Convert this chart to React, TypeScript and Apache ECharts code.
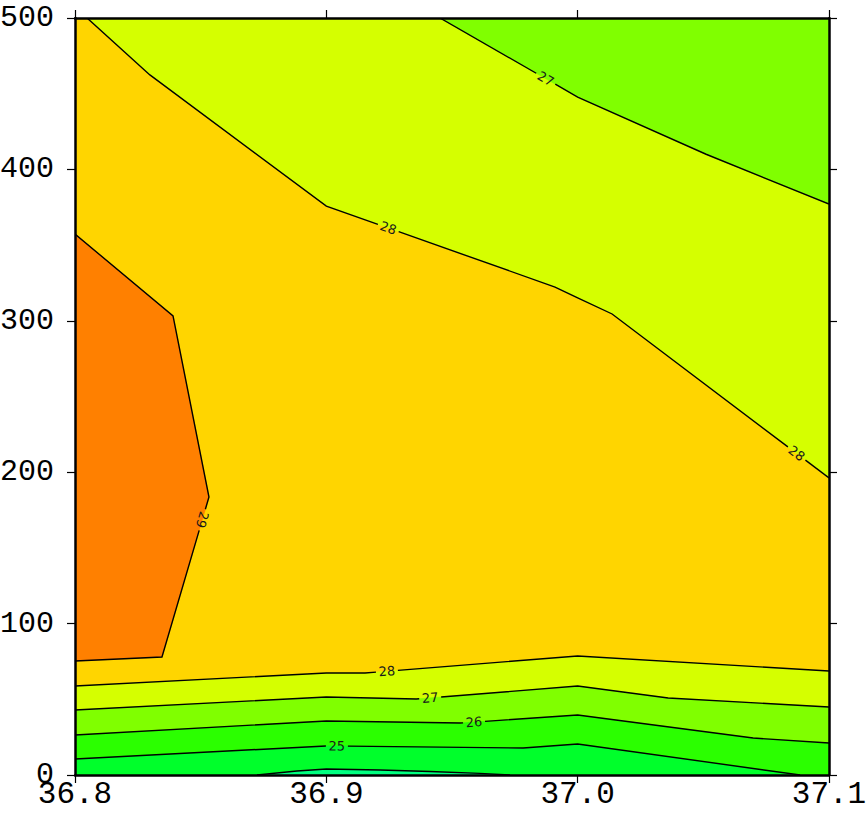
import React, { useEffect, useRef } from "react";
import * as echarts from "echarts";

// ---- Axis ranges / ticks ----
const X_MIN = 36.8;
const X_MAX = 37.1;
const X_STEP = 0.1;
const Y_MIN = 0;
const Y_MAX = 500;
const Y_STEP = 100;

// ---- Contour lines (lon, depth-axis value) ----
const upper28 = [[36.8048, 500], [36.8298, 462.4], [36.9, 375.8], [36.991, 322.3], [37.0, 315.1], [37.0137, 304.5], [37.1, 196.2]];
const upper27 = [[36.9452, 500], [37.0, 447.8], [37.0511, 410], [37.1, 377.1]];
const contour29 = [[36.8, 357.3], [36.839, 303.2], [36.8533, 183.6], [36.8346, 77.9], [36.8, 75.3]];
const lower28 = [[36.8, 58.8], [36.9, 67.4], [36.9154, 67.4], [37.0, 78.6], [37.1, 68.7]];
const lower27 = [[36.8, 42.9], [36.9, 51.5], [36.9358, 50.2], [37.0, 58.8], [37.036, 50.9], [37.1, 44.9]];
const lower26 = [[36.8, 26.4], [36.9, 35.7], [36.9532, 34.3], [37.0, 39.6], [37.0698, 24.4], [37.1, 21.1]];
const lower25 = [[36.8, 10.6], [36.9, 19.2], [36.9783, 17.8], [37.0, 20.5], [37.0885, 0]];
const lower24 = [[36.8724, 0], [36.8883, 2.6], [36.9, 4.0], [36.9214, 3.3], [36.9413, 2.3], [36.9611, 1.1], [36.9731, 0]];

// ---- Band colours ----
const C_ORANGE = "#FF8000"; // > 29
const C_GOLD = "#FFD500"; // 28-29
const C_YG = "#D5FF00"; // 27-28
const C_CHART = "#80FF00"; // 26-27
const C_GREEN1 = "#2BFF00"; // 25-26
const C_GREEN2 = "#00FF2B"; // 24-25
const C_TEAL = "#00FF80"; // < 24

// ---- Filled regions (painted in order) ----
const FILLS: { pts: number[][]; color: string }[] = [
  { pts: [[X_MIN, Y_MIN], [X_MAX, Y_MIN], [X_MAX, Y_MAX], [X_MIN, Y_MAX]], color: C_GOLD },
  { pts: [...upper28, [X_MAX, Y_MAX]], color: C_YG },
  { pts: [...upper27, [X_MAX, Y_MAX]], color: C_CHART },
  { pts: contour29, color: C_ORANGE },
  { pts: [...lower28, [X_MAX, Y_MIN], [X_MIN, Y_MIN]], color: C_YG },
  { pts: [...lower27, [X_MAX, Y_MIN], [X_MIN, Y_MIN]], color: C_CHART },
  { pts: [...lower26, [X_MAX, Y_MIN], [X_MIN, Y_MIN]], color: C_GREEN1 },
  { pts: [...lower25, [X_MIN, Y_MIN]], color: C_GREEN2 },
  { pts: lower24, color: C_TEAL },
];

// ---- Contour lines with labels ----
const LINES: { pts: number[][]; labels: { text: string; at: number[] }[] }[] = [
  { pts: upper27, labels: [{ text: "27", at: [36.987, 459] }] },
  { pts: upper28, labels: [{ text: "28", at: [36.9245, 360.6] }, { text: "28", at: [37.0873, 212.7] }] },
  { pts: contour29, labels: [{ text: "29", at: [36.851, 168.4] }] },
  { pts: lower28, labels: [{ text: "28", at: [36.9241, 68.7] }] },
  { pts: lower27, labels: [{ text: "27", at: [36.9413, 51.3] }] },
  { pts: lower26, labels: [{ text: "26", at: [36.9588, 34.3] }] },
  { pts: lower25, labels: [{ text: "25", at: [36.9042, 19.2] }] },
  { pts: lower24, labels: [] },
];

const LABEL_GAP = 11;

function cumLen(p: number[][]) {
  const c = [0];
  for (let i = 1; i < p.length; i++) {
    c.push(c[i - 1] + Math.hypot(p[i][0] - p[i - 1][0], p[i][1] - p[i - 1][1]));
  }
  return c;
}

function pointAt(p: number[][], cum: number[], s: number) {
  for (let i = 0; i < p.length - 1; i++) {
    if (s <= cum[i + 1] || i === p.length - 2) {
      const len = cum[i + 1] - cum[i] || 1;
      const t = Math.max(0, Math.min(1, (s - cum[i]) / len));
      return [p[i][0] + (p[i + 1][0] - p[i][0]) * t, p[i][1] + (p[i + 1][1] - p[i][1]) * t];
    }
  }
  return p[p.length - 1];
}

function subPath(p: number[][], cum: number[], a: number, b: number) {
  if (b - a <= 0.5) return null;
  const out = [pointAt(p, cum, a)];
  for (let i = 0; i < p.length; i++) {
    if (cum[i] > a && cum[i] < b) out.push(p[i]);
  }
  out.push(pointAt(p, cum, b));
  return out;
}

function project(p: number[][], cum: number[], c: number[]) {
  let best = Infinity;
  let s0 = 0;
  let seg = 0;
  for (let i = 0; i < p.length - 1; i++) {
    const ax = p[i][0], ay = p[i][1];
    const dx = p[i + 1][0] - ax, dy = p[i + 1][1] - ay;
    const l2 = dx * dx + dy * dy || 1;
    const t = Math.max(0, Math.min(1, ((c[0] - ax) * dx + (c[1] - ay) * dy) / l2));
    const px = ax + dx * t, py = ay + dy * t;
    const d = Math.hypot(c[0] - px, c[1] - py);
    if (d < best) {
      best = d;
      s0 = cum[i] + t * Math.sqrt(l2);
      seg = i;
    }
  }
  return { s0, seg };
}

export default function App() {
  const ref = useRef<HTMLDivElement>(null);

  useEffect(() => {
    if (!ref.current) return;
    const chart = echarts.init(ref.current, undefined, { renderer: "svg" });

    const axisCommon = {
      type: "value" as const,
      splitLine: { show: false },
      axisLine: { show: true, onZero: false, lineStyle: { color: "#000", width: 2.5 } },
      axisTick: { show: true, inside: false, length: 8, lineStyle: { color: "#000", width: 1.2 } },
      z: 10,
    };

    chart.setOption({
      animation: false,
      backgroundColor: "#fff",
      grid: { left: 75, right: 37, top: 18, bottom: 38, containLabel: false, outerBoundsMode: "none" },
      xAxis: [
        {
          ...axisCommon,
          position: "bottom",
          min: X_MIN,
          max: X_MAX,
          interval: X_STEP,
          axisLabel: {
            fontFamily: "Liberation Mono",
            fontSize: 31,
            lineHeight: 31,
            color: "#000",
            margin: 4,
            formatter: (v: number) => v.toFixed(1),
          },
        },
        {
          ...axisCommon,
          position: "top",
          min: X_MIN,
          max: X_MAX,
          interval: X_STEP,
          axisLabel: { show: false },
        },
      ],
      yAxis: [
        {
          ...axisCommon,
          position: "left",
          min: Y_MIN,
          max: Y_MAX,
          interval: Y_STEP,
          axisLabel: { fontFamily: "Liberation Mono", fontSize: 30, color: "#000", margin: 21 },
        },
        {
          ...axisCommon,
          position: "right",
          min: Y_MIN,
          max: Y_MAX,
          interval: Y_STEP,
          axisLabel: { show: false },
        },
      ],
      series: [
        {
          type: "custom",
          xAxisIndex: 0,
          yAxisIndex: 0,
          clip: true,
          silent: true,
          z: 2,
          data: FILLS.map((_, i) => [X_MIN, i]),
          renderItem: (params: any, api: any) => {
            const f = FILLS[params.dataIndex];
            const pts = f.pts.map((p) => api.coord(p));
            return {
              type: "polygon",
              shape: { points: pts },
              style: { fill: f.color, stroke: f.color, lineWidth: 0.6 },
            };
          },
        },
        {
          type: "custom",
          xAxisIndex: 0,
          yAxisIndex: 0,
          clip: true,
          silent: true,
          z: 3,
          data: LINES.map((_, i) => [X_MIN, i]),
          renderItem: (params: any, api: any) => {
            const L = LINES[params.dataIndex];
            const px = L.pts.map((p) => api.coord(p));
            const cum = cumLen(px);
            const total = cum[cum.length - 1];
            const gaps: number[][] = [];
            const children: any[] = [];
            L.labels.forEach((lb) => {
              const c = api.coord(lb.at);
              const { s0, seg } = project(px, cum, c);
              const pos = pointAt(px, cum, s0);
              const dx = px[seg + 1][0] - px[seg][0];
              const dy = px[seg + 1][1] - px[seg][1];
              const ang = Math.atan2(dy, dx);
              gaps.push([s0 - LABEL_GAP, s0 + LABEL_GAP]);
              children.push({
                type: "text",
                x: pos[0],
                y: pos[1],
                rotation: -ang,
                style: {
                  text: lb.text,
                  fill: "#1a1a1a",
                  font: "13px 'DejaVu Sans'",
                  align: "center",
                  verticalAlign: "middle",
                },
                z2: 5,
              });
            });
            gaps.sort((a, b) => a[0] - b[0]);
            let start = 0;
            const pieces: number[][][] = [];
            gaps.forEach((g) => {
              const sp = subPath(px, cum, start, g[0]);
              if (sp) pieces.push(sp);
              start = g[1];
            });
            const last = subPath(px, cum, start, total);
            if (last) pieces.push(last);
            pieces.forEach((pc) => {
              children.unshift({
                type: "polyline",
                shape: { points: pc },
                style: { stroke: "#000", lineWidth: 1.4, fill: "none" },
              });
            });
            return { type: "group", children };
          },
        },
      ],
    });

    return () => chart.dispose();
  }, []);

  return (
    <div
      ref={ref}
      style={{ position: "fixed", left: 0, top: 0, width: 866, height: 813, background: "#fff" }}
    />
  );
}
